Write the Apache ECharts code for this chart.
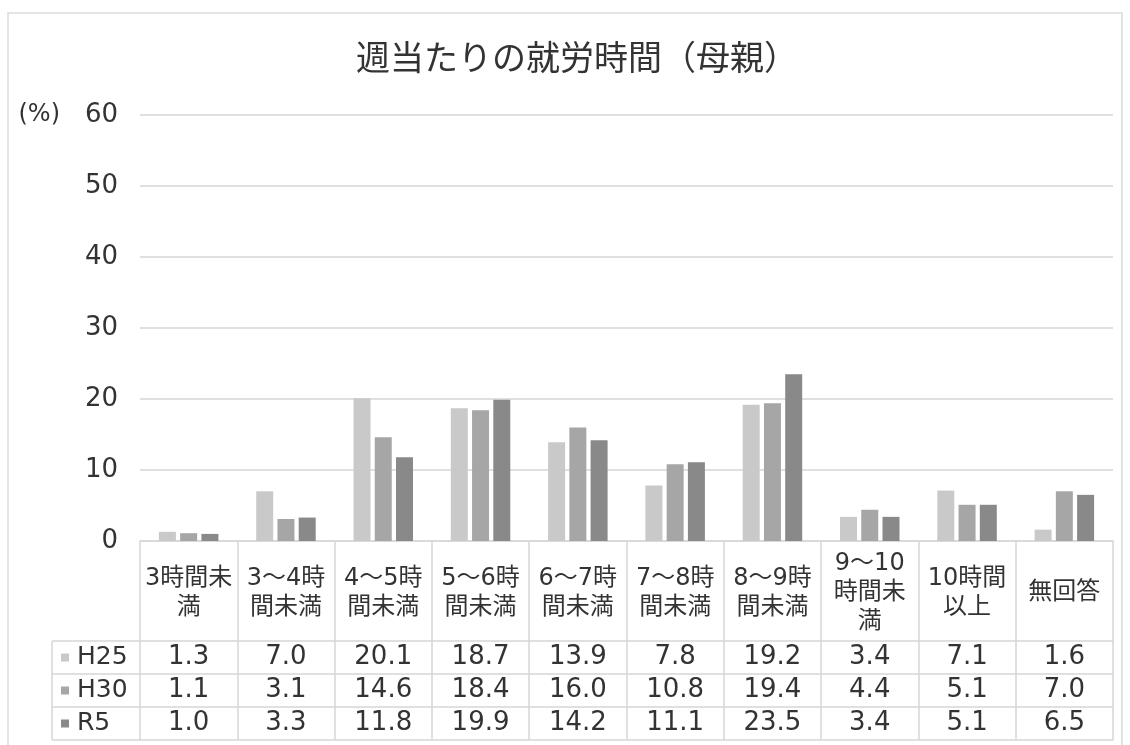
<!DOCTYPE html>
<html><head><meta charset="utf-8">
<script src="https://cdn.jsdelivr.net/npm/echarts@6/dist/echarts.min.js"></script>
<style>html,body{margin:0;padding:0;background:#fff}#c{width:1130px;height:745px}</style>
</head><body><div id="c"></div>
<script>
const titleText = '週当たりの就労時間（母親）';
const categories = ['3時間未\n満','3～4時\n間未満','4～5時\n間未満','5～6時\n間未満','6～7時\n間未満','7～8時\n間未満','8～9時\n間未満','9～10\n時間未\n満','10時間\n以上','無回答'];
const seriesNames = ['H25','H30','R5'];
const h25 = [1.3, 7.0, 20.1, 18.7, 13.9, 7.8, 19.2, 3.4, 7.1, 1.6];
const h30 = [1.1, 3.1, 14.6, 18.4, 16.0, 10.8, 19.4, 4.4, 5.1, 7.0];
const r5  = [1.0, 3.3, 11.8, 19.9, 14.2, 11.1, 23.5, 3.4, 5.1, 6.5];
const yMin = 0, yMax = 60, yStep = 10;
const colors = ['#c9c9c9', '#a6a6a6', '#898989'];

const FONT = "'DejaVu Sans','Noto Sans CJK JP',sans-serif";
const TXT = '#333333';
const LINE = '#d6d6d6';
const rows = [h25, h30, r5];
const rowOffsets = [100, 133, 166];

const chart = echarts.init(document.getElementById('c'));
const xAxes = [{
  type: 'category', data: categories, gridIndex: 0, position: 'bottom', offset: 0,
  axisLine: {show: true, lineStyle: {color: LINE, width: 1.5}},
  axisTick: {show: true, length: 199, interval: 0, lineStyle: {color: LINE, width: 1.5}},
  axisLabel: {interval: 0, margin: 52, verticalAlign: 'middle', align: 'center',
    fontFamily: FONT, fontSize: 24, lineHeight: 29, color: TXT}
}];
rows.forEach((arr, k) => {
  xAxes.push({
    type: 'category', data: categories, gridIndex: 0, position: 'bottom', offset: rowOffsets[k],
    axisLine: {show: true, lineStyle: {color: LINE, width: 1.5}},
    axisTick: {show: false},
    axisLabel: {interval: 0, margin: 16.5, verticalAlign: 'middle', align: 'center',
      fontFamily: FONT, fontSize: 26, color: TXT,
      formatter: (v, i) => arr[i].toFixed(1)}
  });
});
xAxes.push({
  type: 'category', data: categories, gridIndex: 0, position: 'bottom', offset: 199,
  axisLine: {show: true, lineStyle: {color: LINE, width: 1.5}},
  axisTick: {show: false}, axisLabel: {show: false}
});

chart.setOption({
  backgroundColor: '#ffffff',
  animation: false,
  title: {text: titleText, left: 351, top: 35,
    textStyle: {fontFamily: "'Noto Sans CJK JP',sans-serif", fontSize: 34, fontWeight: 'normal', color: TXT}},
  grid: {left: 140, right: 17, top: 115, bottom: 204, containLabel: false, outerBoundsMode: 'none'},
  legend: {data: seriesNames, orient: 'vertical', left: 61, top: 641, padding: 0, itemGap: 0,
    itemWidth: 8, itemHeight: 8, icon: 'rect',
    textStyle: {fontFamily: FONT, fontSize: 25, lineHeight: 33, color: TXT, padding: [0, 0, 0, 3]}},
  xAxis: xAxes,
  yAxis: {type: 'value', min: yMin, max: yMax, interval: yStep,
    name: '(%)', nameLocation: 'end', nameGap: 0,
    nameTextStyle: {fontFamily: FONT, fontSize: 24, color: TXT, align: 'right', verticalAlign: 'middle', padding: [0, 80, 0, 0]},
    axisLine: {show: false}, axisTick: {show: false},
    axisLabel: {margin: 22, fontFamily: FONT, fontSize: 26, color: TXT},
    splitLine: {lineStyle: {color: LINE, width: 1.5}}},
  series: seriesNames.map((n, k) => ({
    name: n, type: 'bar', data: rows[k], xAxisIndex: 0, yAxisIndex: 0,
    barWidth: 17, barGap: '25%', itemStyle: {color: colors[k]}
  })),
  graphic: [
    {type: 'rect', shape: {x: 8, y: 13, width: 1114, height: 740}, style: {fill: 'none', stroke: '#dcdcdc', lineWidth: 1.5}, silent: true},
    {type: 'line', shape: {x1: 52, y1: 641, x2: 140, y2: 641}, style: {stroke: LINE, lineWidth: 1.5}},
    {type: 'line', shape: {x1: 52, y1: 674, x2: 140, y2: 674}, style: {stroke: LINE, lineWidth: 1.5}},
    {type: 'line', shape: {x1: 52, y1: 707, x2: 140, y2: 707}, style: {stroke: LINE, lineWidth: 1.5}},
    {type: 'line', shape: {x1: 52, y1: 740, x2: 140, y2: 740}, style: {stroke: LINE, lineWidth: 1.5}},
    {type: 'line', shape: {x1: 52, y1: 641, x2: 52, y2: 740}, style: {stroke: LINE, lineWidth: 1.5}}
  ]
});
</script></body></html>
